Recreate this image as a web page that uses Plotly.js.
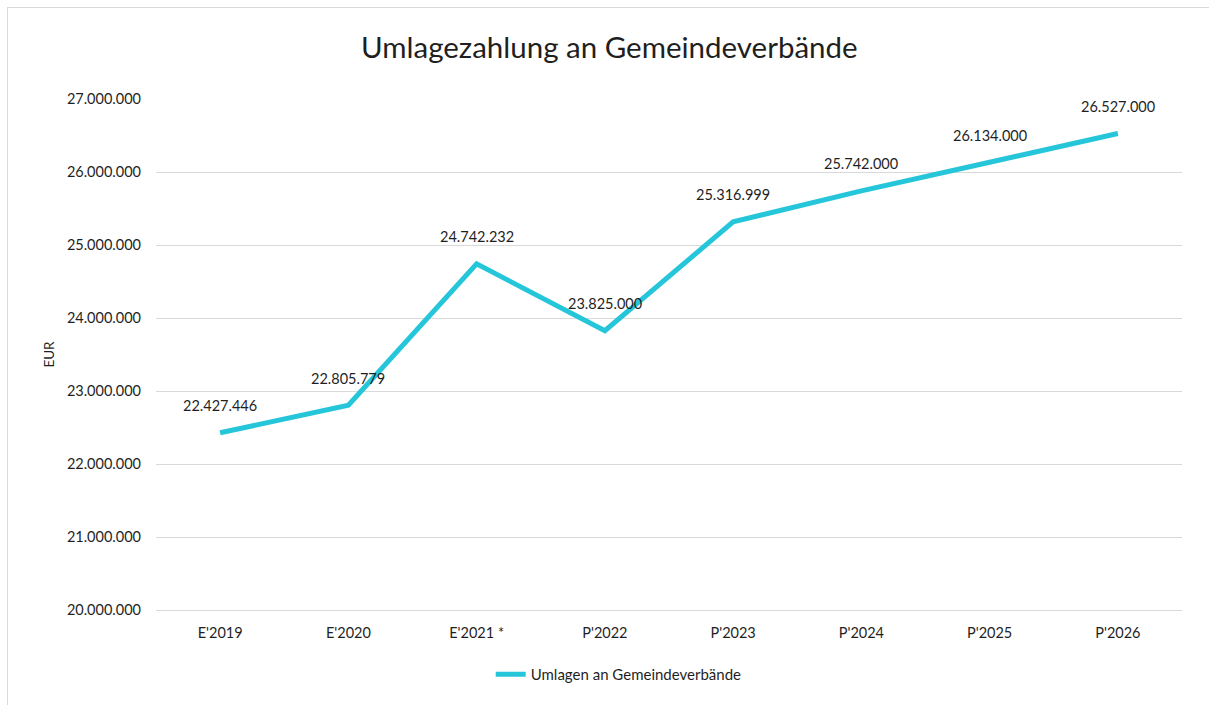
<!DOCTYPE html>
<html>
<head>
<meta charset="utf-8">
<script src="https://cdn.plot.ly/plotly-3.0.1.min.js"></script>
<style>
  html, body { margin: 0; padding: 0; background: #fff; }
  #chart { width: 1209px; height: 705px; position: absolute; left: 0; top: 0; }
  #frame { position: absolute; left: 7px; top: 7px; width: 1300px; height: 800px;
           border-left: 1px solid #d9d9d9; border-top: 1px solid #d9d9d9; pointer-events: none; }
</style>
</head>
<body>
<div id="chart"></div>
<div id="frame"></div>
<script>
const categories = ["E'2019", "E'2020", "E'2021 *", "P'2022", "P'2023", "P'2024", "P'2025", "P'2026"];
const values = [22427446, 22805779, 24742232, 23825000, 25316999, 25742000, 26134000, 26527000];
const seriesName = "Umlagen an Gemeindeverbände";
const yTicks = [20000000, 21000000, 22000000, 23000000, 24000000, 25000000, 26000000, 27000000];

function fmtDE(v) {
  return String(Math.round(v)).replace(/\B(?=(\d{3})+(?!\d))/g, ".");
}

const FONT = "Lato, 'Open Sans', sans-serif";
const TXT = "#1f1f1f";

const trace = {
  x: categories,
  y: values,
  type: "scatter",
  mode: "lines",
  name: seriesName,
  line: { color: "#26c6da", width: 5 },
  hoverinfo: "skip"
};

const annotations = categories.map((c, i) => ({
  x: c, y: values[i], xref: "x", yref: "y",
  text: fmtDE(values[i]),
  showarrow: false,
  yshift: 27,
  font: { family: FONT, size: 14.5, color: TXT }
}));

const layout = {
  width: 1209, height: 705,
  margin: { l: 156, r: 27, t: 99, b: 94.5 },
  paper_bgcolor: "#fff", plot_bgcolor: "#fff",
  separators: ",.",
  title: { text: "Umlagezahlung an Gemeindeverbände", x: 0.504, xanchor: "center", y: 0.933, yanchor: "middle",
           font: { family: FONT, size: 29.5, color: TXT } },
  xaxis: {
    type: "category",
    range: [-0.5, categories.length - 0.5],
    showgrid: false, zeroline: false,
    showline: true, linecolor: "#d9d9d9", linewidth: 1,
    ticks: "", ticklabelstandoff: 10,
    tickfont: { family: FONT, size: 14.5, color: TXT },
    fixedrange: true
  },
  yaxis: {
    range: [20000000, 27000000],
    tickmode: "array", tickvals: yTicks, ticktext: yTicks.map(fmtDE),
    showgrid: true, gridcolor: "#d9d9d9", gridwidth: 1,
    zeroline: false, showline: false, ticks: "",
    ticklabelstandoff: 14,
    tickfont: { family: FONT, size: 14.5, color: TXT },
    title: { text: "EUR", font: { family: FONT, size: 13.5, color: TXT }, standoff: 9 },
    fixedrange: true
  },
  showlegend: true,
  legend: {
    orientation: "h", x: 0.451, xanchor: "center", y: -0.126, yanchor: "middle",
    font: { family: FONT, size: 15, color: TXT }, bgcolor: "rgba(0,0,0,0)"
  },
  annotations: annotations
};

Plotly.newPlot("chart", [trace], layout, { displayModeBar: false, staticPlot: true });
</script>
</body>
</html>
